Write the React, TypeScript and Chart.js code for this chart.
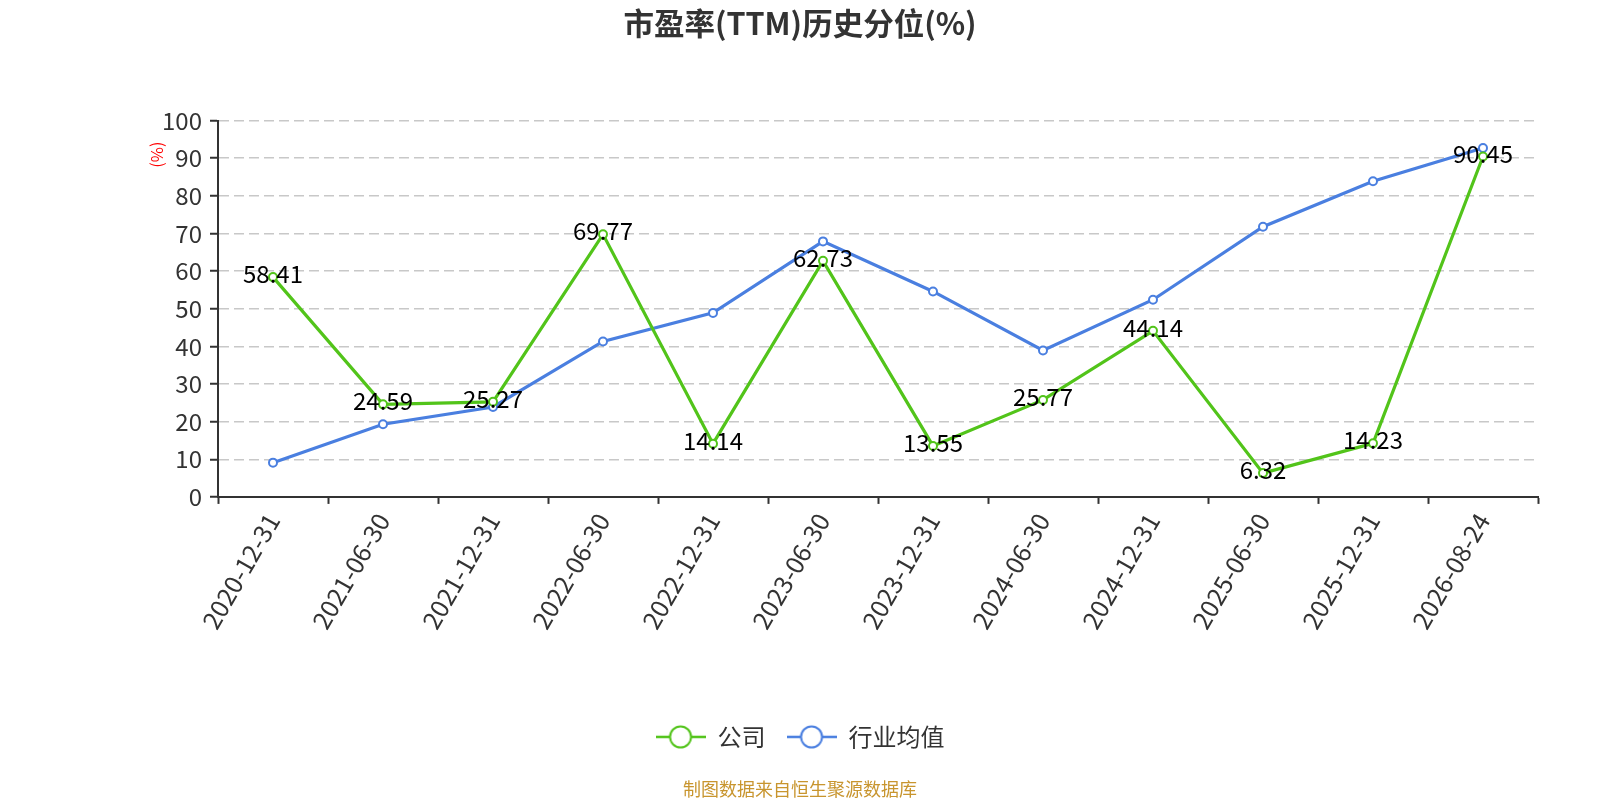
import React, { useEffect, useRef } from 'react';
import { Chart, registerables } from 'chart.js';

Chart.register(...registerables);

const dates = [
  '2020-12-31', '2021-06-30', '2021-12-31', '2022-06-30', '2022-12-31', '2023-06-30',
  '2023-12-31', '2024-06-30', '2024-12-31', '2025-06-30', '2025-12-31', '2026-08-24',
];
const companyPct = [58.41, 24.59, 25.27, 69.77, 14.14, 62.73, 13.55, 25.77, 44.14, 6.32, 14.23, 90.45];
const industryPct = [9.1, 19.3, 23.9, 41.3, 48.9, 67.9, 54.6, 38.9, 52.4, 71.8, 83.9, 92.7];

const FONT = "'Noto Sans CJK SC', 'Noto Sans', sans-serif";
const GREEN = '#52c41a';
const BLUE = '#4a7fe0';

// legend icon: short line with a hollow circle in the middle
function legendIcon(color: string) {
  const c = document.createElement('canvas');
  c.width = 50;
  c.height = 26;
  const ctx = c.getContext('2d') as CanvasRenderingContext2D;
  ctx.strokeStyle = color;
  ctx.lineWidth = 2.5;
  ctx.beginPath();
  ctx.moveTo(0, 13);
  ctx.lineTo(50, 13);
  ctx.stroke();
  ctx.fillStyle = '#fff';
  ctx.lineWidth = 2;
  ctx.beginPath();
  ctx.arc(25, 13, 10.5, 0, Math.PI * 2);
  ctx.fill();
  ctx.stroke();
  return c;
}

const valueLabels = {
  id: 'valueLabels',
  afterDatasetsDraw(chart: any) {
    const { ctx } = chart;
    const meta = chart.getDatasetMeta(0);
    ctx.save();
    ctx.font = `24px ${FONT}`;
    ctx.fillStyle = '#000';
    ctx.textAlign = 'center';
    ctx.textBaseline = 'middle';
    meta.data.forEach((pt: any, i: number) => {
      ctx.fillText(companyPct[i].toFixed(2), pt.x, pt.y - 3);
    });
    ctx.restore();
  },
};

const unitLabel = {
  id: 'unitLabel',
  afterDraw(chart: any) {
    const { ctx, chartArea } = chart;
    ctx.save();
    ctx.translate(chartArea.left - 61, chartArea.top + 34);
    ctx.rotate(-Math.PI / 2);
    ctx.font = `16.5px ${FONT}`;
    ctx.fillStyle = '#ff0000';
    ctx.textAlign = 'center';
    ctx.textBaseline = 'middle';
    ctx.fillText('(%)', 0, 0);
    ctx.restore();
  },
};

const PeChart: React.FC = () => {
  const canvasRef = useRef<HTMLCanvasElement | null>(null);
  const chartRef = useRef<Chart | null>(null);

  useEffect(() => {
    document.body.style.margin = '0';
    if (!canvasRef.current) return;
    if (chartRef.current) chartRef.current.destroy();

    const icons = [legendIcon(GREEN), legendIcon(BLUE)];

    chartRef.current = new Chart(canvasRef.current, {
      type: 'line',
      data: {
        labels: dates,
        datasets: [
          {
            label: '公司',
            data: companyPct,
            borderColor: GREEN,
            backgroundColor: '#fff',
            borderWidth: 3.2,
            pointRadius: 4,
            pointBorderWidth: 2,
            pointBackgroundColor: '#fff',
            pointBorderColor: GREEN,
            tension: 0,
          },
          {
            label: '行业均值',
            data: industryPct,
            borderColor: BLUE,
            backgroundColor: '#fff',
            borderWidth: 3.2,
            pointRadius: 4,
            pointBorderWidth: 2,
            pointBackgroundColor: '#fff',
            pointBorderColor: BLUE,
            tension: 0,
          },
        ],
      },
      options: {
        responsive: false,
        animation: false,
        layout: { padding: { left: 62, right: 62, top: 0, bottom: 0 } },
        scales: {
          x: {
            offset: true,
            grid: { offset: true, drawOnChartArea: false, tickLength: 7, tickColor: '#333', tickWidth: 2 },
            border: { color: '#333', width: 2 },
            ticks: {
              color: '#333',
              font: { size: 25, family: FONT },
              minRotation: 60,
              maxRotation: 60,
              padding: 4,
              autoSkip: false,
            },
            afterFit: (s: any) => { s.height = 207; },
          },
          y: {
            min: 0,
            max: 100,
            ticks: { stepSize: 10, color: '#333', font: { size: 24, family: FONT }, padding: 8 },
            grid: { color: '#c8c8c8', lineWidth: 1.5, tickLength: 8, tickColor: '#333', tickWidth: 2 },
            border: { color: '#333', width: 2, dash: [10, 5] },
            afterFit: (s: any) => { s.width = 156; },
          },
        },
        plugins: {
          title: {
            display: true,
            text: '市盈率(TTM)历史分位(%)',
            color: '#333',
            font: { size: 30.5, weight: 'bold', family: FONT },
            padding: { top: 5, bottom: 79 },
          },
          subtitle: {
            display: true,
            position: 'bottom',
            text: '制图数据来自恒生聚源数据库',
            color: '#c8952e',
            font: { size: 18, family: FONT },
            padding: { top: 19.5, bottom: 0 },
          },
          legend: {
            position: 'bottom',
            labels: {
              usePointStyle: true,
              pointStyleWidth: 50,
              color: '#333',
              font: { size: 24, family: FONT },
              padding: 21,
              generateLabels: (chart: any) =>
                Chart.defaults.plugins.legend.labels.generateLabels(chart).map((item: any, i: number) => ({
                  ...item,
                  pointStyle: icons[i],
                })),
            },
          },
          tooltip: { enabled: false },
        },
      },
      plugins: [valueLabels, unitLabel],
    });

    return () => {
      if (chartRef.current) {
        chartRef.current.destroy();
        chartRef.current = null;
      }
    };
  }, []);

  return (
    <div style={{ width: 1600, height: 800, overflow: 'hidden' }}>
      <canvas ref={canvasRef} width={1600} height={800} style={{ display: 'block' }} />
    </div>
  );
};

export default function App() {
  return <PeChart />;
}
